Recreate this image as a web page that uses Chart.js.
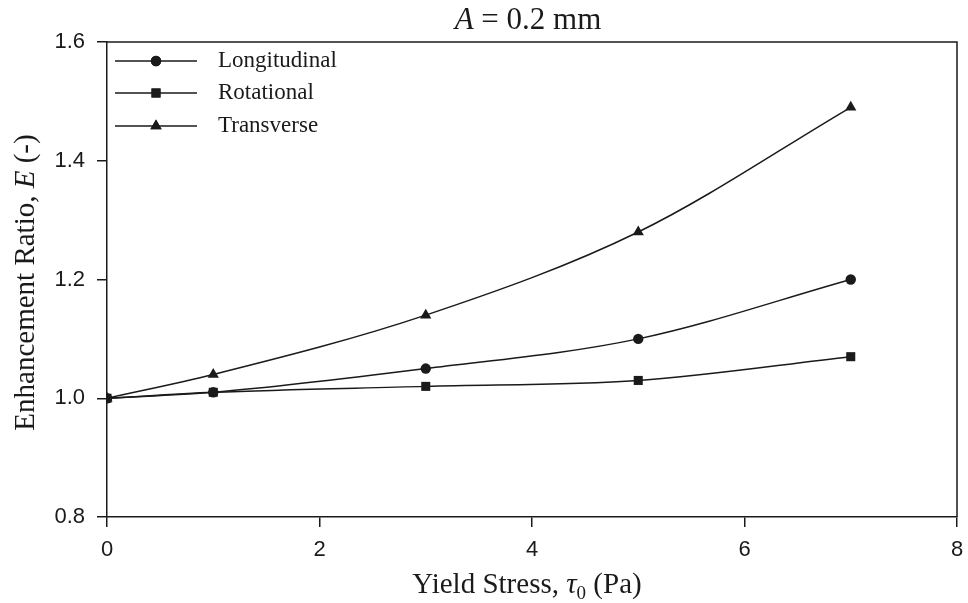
<!DOCTYPE html>
<html>
<head>
<meta charset="utf-8">
<script src="https://cdn.jsdelivr.net/npm/chart.js@4"></script>
<style>
  html, body { margin: 0; padding: 0; background: #fff; }
  #wrap { width: 968px; height: 603px; }
</style>
</head>
<body>
<div id="wrap"><canvas id="chart01" width="968" height="603"></canvas></div>
<script>
(function () {

    // yield stress (Pa)
    const stress = [0, 1, 3, 5, 7];

    // enhancement ratio for each vibration mode
    const longitudinal = [1.00, 1.01, 1.05, 1.10, 1.20];
    const rotational = [1.00, 1.01, 1.02, 1.03, 1.07];
    const transverse = [1.00, 1.04, 1.14, 1.28, 1.49];

    const x_ticks = [0, 2, 4, 6, 8];
    const y_ticks = [0.8, 1.0, 1.2, 1.4, 1.6];

    const ink = '#1a1a1a';
    const serif = '"Liberation Serif", "Times New Roman", serif';
    const sans = '"Liberation Sans", Arial, sans-serif';

    function series(label, values, style, radius) {
        return {
            label: label,
            data: stress.map((x, i) => ({x: x, y: values[i]})),
            showLine: true,
            borderColor: ink,
            backgroundColor: ink,
            borderWidth: 1.5,
            cubicInterpolationMode: 'monotone',
            pointStyle: style,
            pointRadius: radius,
            pointBorderWidth: 0
        };
    }

    const datasets = [
        series('Longitudinal', longitudinal, 'circle', 5.2),
        series('Rotational', rotational, 'rect', 6.4),
        series('Transverse', transverse, 'triangle', 6.5)
    ];

    // draws runs of text with mixed styles, left to right
    function runs(ctx, parts, x, y) {
        let cx = x;
        parts.forEach(p => {
            ctx.font = p.font;
            ctx.fillText(p.text, cx, y + (p.dy || 0));
            cx += ctx.measureText(p.text).width;
        });
        return cx - x;
    }

    function runs_width(ctx, parts) {
        let w = 0;
        parts.forEach(p => { ctx.font = p.font; w += ctx.measureText(p.text).width; });
        return w;
    }

    const decorations = {
        id: 'decorations',
        afterDraw(chart) {
            const ctx = chart.ctx;
            const a = chart.chartArea;
            const mid = (a.left + a.right) / 2;
            ctx.save();

            // frame on top and right
            ctx.strokeStyle = ink;
            ctx.lineWidth = 1.5;
            ctx.beginPath();
            ctx.moveTo(a.left, a.top);
            ctx.lineTo(a.right, a.top);
            ctx.lineTo(a.right, a.bottom);
            ctx.stroke();

            ctx.fillStyle = ink;
            ctx.textBaseline = 'alphabetic';

            // heading
            const head = [
                {text: 'A', font: 'italic 31px ' + serif},
                {text: ' = 0.2 mm', font: '31px ' + serif}
            ];
            runs(ctx, head, mid - 4 - runs_width(ctx, head) / 2, 29);

            // x axis title
            const xt = [
                {text: 'Yield Stress, ', font: '29px ' + serif},
                {text: 'τ', font: 'italic 29px ' + serif},
                {text: '0', font: '19px ' + serif, dy: 6},
                {text: ' (Pa)', font: '29px ' + serif}
            ];
            runs(ctx, xt, mid - 5 - runs_width(ctx, xt) / 2, 593);

            // y axis title, rotated
            const yt = [
                {text: 'Enhancement Ratio, ', font: '29px ' + serif},
                {text: 'E', font: 'italic 29px ' + serif},
                {text: ' (-)', font: '29px ' + serif}
            ];
            ctx.save();
            ctx.translate(34, (a.top + a.bottom) / 2 + 3);
            ctx.rotate(-Math.PI / 2);
            runs(ctx, yt, -runs_width(ctx, yt) / 2, 0);
            ctx.restore();

            // legend in the upper left corner
            const rows = [61, 93, 126];
            ctx.textBaseline = 'middle';
            chart.data.datasets.forEach((ds, i) => {
                const y = rows[i];
                ctx.strokeStyle = ink;
                ctx.lineWidth = 1.5;
                ctx.beginPath();
                ctx.moveTo(115, y);
                ctx.lineTo(197, y);
                ctx.stroke();
                Chart.helpers.drawPoint(ctx, {
                    pointStyle: ds.pointStyle,
                    radius: ds.pointRadius,
                    borderWidth: 0
                }, 156, y);
                ctx.fill();
                ctx.font = '23px ' + serif;
                ctx.fillText(ds.label, 218, y);
            });

            ctx.restore();
        }
    };

    new Chart(
        document.getElementById('chart01'),
        {
            type: 'scatter',
            data: {
                datasets: datasets
            },
            options: {
                responsive: false,
                animation: false,
                layout: {
                    padding: {top: 42, right: 11, left: 0, bottom: 0}
                },
                plugins: {
                    legend: {display: false},
                    title: {display: false},
                    tooltip: {enabled: false}
                },
                scales: {
                    x: {
                        type: 'linear',
                        min: 0,
                        max: 8,
                        afterFit(scale) {
                            scale.height = 86;
                            scale.paddingLeft = 0;
                            scale.paddingRight = 0;
                        },
                        afterBuildTicks(scale) { scale.ticks = x_ticks.map(v => ({value: v})); },
                        grid: {
                            drawOnChartArea: false,
                            color: ink,
                            lineWidth: 1.5,
                            tickLength: 10
                        },
                        border: {color: ink, width: 1.5},
                        ticks: {
                            color: ink,
                            font: {family: sans, size: 22},
                            padding: 10,
                            callback: v => String(v)
                        }
                    },
                    y: {
                        type: 'linear',
                        min: 0.8,
                        max: 1.6,
                        afterFit(scale) {
                            scale.width = 107;
                            scale.paddingTop = 0;
                            scale.paddingBottom = 0;
                        },
                        afterBuildTicks(scale) { scale.ticks = y_ticks.map(v => ({value: v})); },
                        grid: {
                            drawOnChartArea: false,
                            color: ink,
                            lineWidth: 1.5,
                            tickLength: 10
                        },
                        border: {color: ink, width: 1.5},
                        ticks: {
                            color: ink,
                            font: {family: sans, size: 22},
                            padding: 12,
                            callback: v => v.toFixed(1)
                        }
                    }
                }
            },
            plugins: [decorations]
        }
    );
})();
</script>
</body>
</html>
